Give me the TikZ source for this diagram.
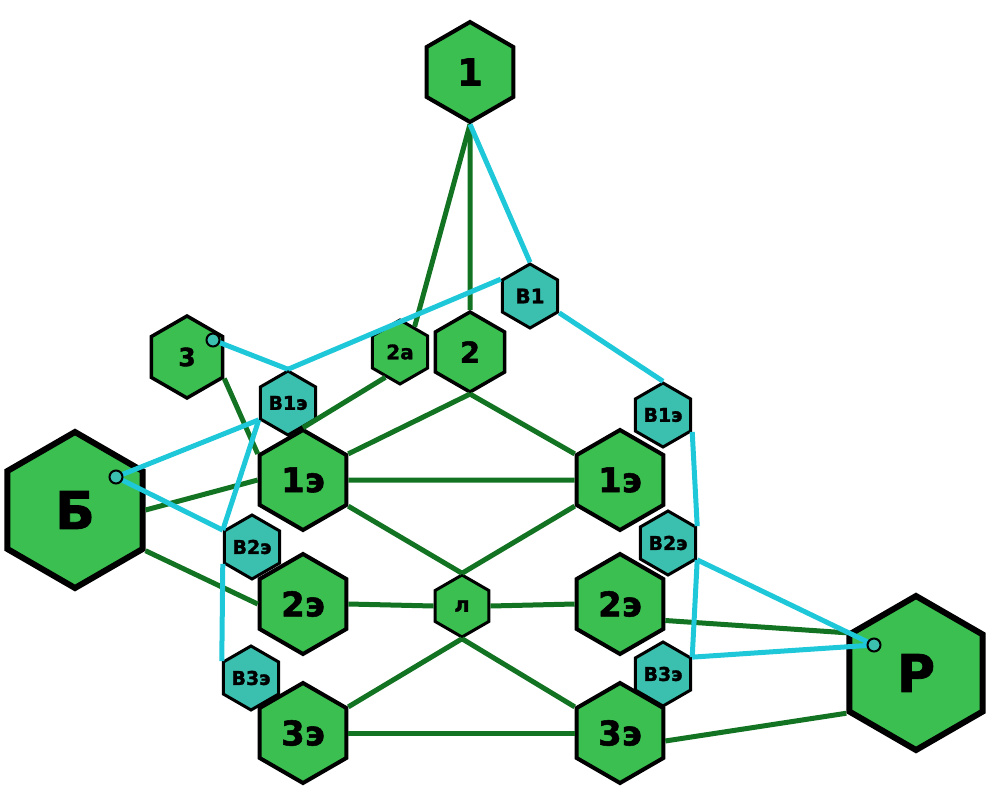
\documentclass[tikz,border=0pt]{standalone}
\usepackage{fontspec}
\setmainfont{DejaVu Sans}[BoldFeatures={FakeBold=1.5}]
\usetikzlibrary{shapes.geometric,calc}

\definecolor{hexgreen}{HTML}{3BBF50}
\definecolor{hexteal}{HTML}{3BBFAE}
\definecolor{linkgreen}{HTML}{127322}
\definecolor{linkcyan}{HTML}{1EC8D8}
\newcommand{\hexfont}[1]{\fontsize{#1}{#1}\selectfont\bfseries}

\begin{document}
\begin{tikzpicture}[x=1pt,y=-1pt,
    hex/.style={regular polygon, regular polygon sides=6, shape border rotate=30, draw=black, fill=hexgreen, inner sep=0pt, line width=3pt},
    vhex/.style={hex, fill=hexteal, minimum size=64pt, font=\hexfont{19}},
    ehex/.style={hex, minimum size=100pt, line width=4pt, font=\hexfont{34}},
    green link/.style={draw=linkgreen, line width=5pt},
    cyan link/.style={draw=linkcyan, line width=5pt},
    port/.style={circle, draw=black, fill=hexteal, line width=2pt, minimum size=13pt, inner sep=0pt}]
    \useasboundingbox (0,0) rectangle (992,800);

    % Upper nodes
    \node[hex, minimum size=100pt, line width=4pt, font=\hexfont{37}] (n1) at (470,72) {1};
    \node[hex, minimum size=80pt, line width=3.5pt, font=\hexfont{29}] (n2) at (470,352) {2};
    \node[hex, minimum size=64pt, font=\hexfont{20}] (n2a) at (400,352) {2а};
    \node[hex, minimum size=82pt, line width=3.5pt, font=\hexfont{25}] (n3) at (187,357) {3};
    \node[vhex, font=\hexfont{20}] (v1) at (530,296) {В1};

    % Big end nodes
    \node[hex, minimum size=156pt, line width=6pt, font=\hexfont{52}] (nb) at (75,510) {Б};
    \node[hex, minimum size=154pt, line width=6pt, font=\hexfont{52}] (nr) at (916,673) {Р};

    % Left column
    \node[vhex] (v1eL) at (288,403) {В1э};
    \node[ehex] (e1L) at (303,480) {1э};
    \node[vhex] (v2eL) at (252,547) {В2э};
    \node[ehex] (e2L) at (303,604) {2э};
    \node[vhex] (v3eL) at (251,678) {В3э};
    \node[ehex] (e3L) at (303,733) {3э};

    % Right column
    \node[vhex] (v1eR) at (663,415) {В1э};
    \node[ehex] (e1R) at (620,480) {1э};
    \node[vhex] (v2eR) at (668,543) {В2э};
    \node[ehex] (e2R) at (620,604) {2э};
    \node[vhex] (v3eR) at (663,674) {В3э};
    \node[ehex] (e3R) at (620,733) {3э};

    \node[hex, minimum size=62pt, font=\hexfont{21}] (l) at (462,606) {л};

    % Ports
    \coordinate (p3) at ($(n3)+(26,-17)$);
    \coordinate (pb) at ($(nb)+(41,-33)$);
    \coordinate (pr) at ($(nr)+(-42,-28)$);

    % Green links
    \draw[green link] (n1.270) -- (n2.90);
    \draw[green link] (n1.270) -- (n2a.60);
    \draw[green link] (n3.330) -- (e1L.150);
    \draw[green link] (n2a.240) -- (e1L.90);
    \draw[green link] (n2.270) -- (e1L.30);
    \draw[green link] (n2.270) -- (e1R.150);
    \draw[green link] (e1L) -- (e1R);
    \draw[green link] (e1L.330) -- (l.90);
    \draw[green link] (e1R.210) -- (l.90);
    \draw[green link] (nb.east) -- (e1L.west);
    \draw[green link] (nb.330) -- (e2L.west);
    \draw[green link] (e2L.east) -- (l.west);
    \draw[green link] (l.east) -- (e2R.west);
    \draw[green link] (l.270) -- (e3L.30);
    \draw[green link] (l.270) -- (e3R.150);
    \draw[green link] (e3L.east) -- (e3R.west);
    \draw[green link] (e2R.-20) -- (nr.150);
    \draw[green link] (e3R.-10) -- (nr.210);

    % Cyan links
    \draw[cyan link] (n1.270) -- (v1.90);
    \draw[cyan link] (v1.150) -- (v1eL.90);
    \draw[cyan link] (v1.330) -- (v1eR.90);
    \draw[cyan link] (p3) -- (v1eL.90);
    \draw[cyan link] (v1eL.210) -- (pb);
    \draw[cyan link] (pb) -- (v2eL.150);
    \draw[cyan link] (v1eL.210) -- (v2eL.150);
    \draw[cyan link] (v2eL.210) -- (v3eL.150);
    \draw[cyan link] (v1eR.330) -- (v2eR.30);
    \draw[cyan link] (v2eR.330) -- (pr);
    \draw[cyan link] (v3eR.30) -- (pr);
    \draw[cyan link] (v2eR.330) -- (v3eR.30);

    \node[port] at (p3) {};
    \node[port] at (pb) {};
    \node[port] at (pr) {};
\end{tikzpicture}
\end{document}
